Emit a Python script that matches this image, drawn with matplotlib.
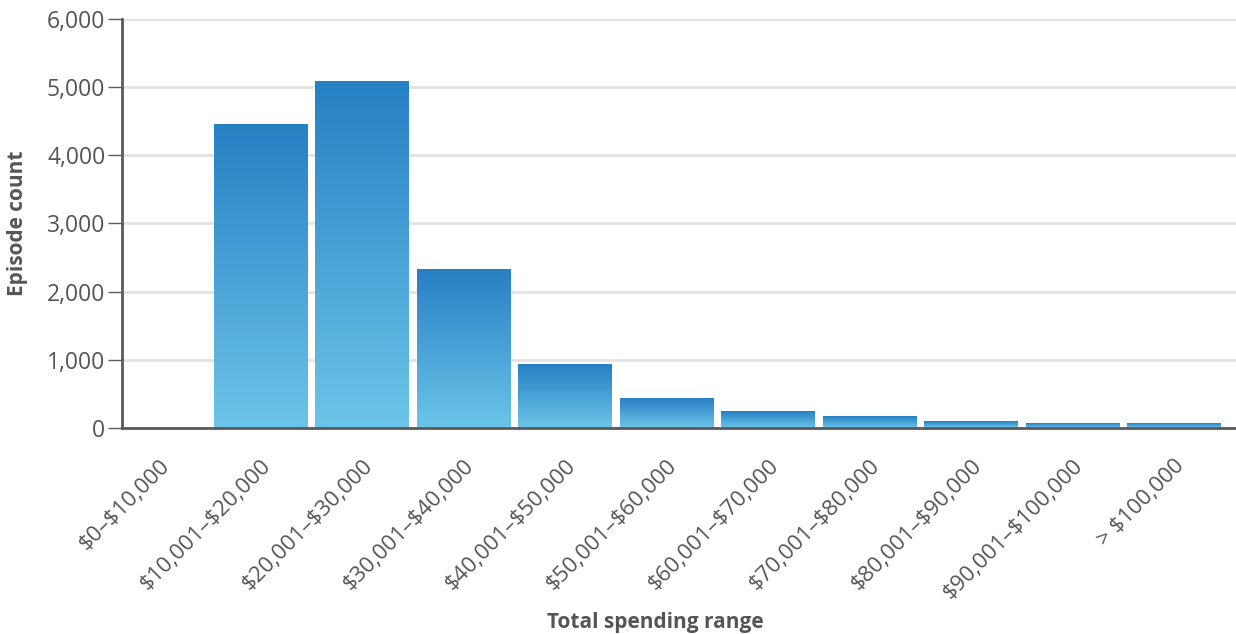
import numpy as np
import matplotlib
matplotlib.use('Agg')
import matplotlib.pyplot as plt
from matplotlib.colors import LinearSegmentedColormap
from matplotlib.ticker import FuncFormatter

categories = ['$0\u2013$10,000', '$10,001\u2013$20,000', '$20,001\u2013$30,000',
              '$30,001\u2013$40,000', '$40,001\u2013$50,000', '$50,001\u2013$60,000',
              '$60,001\u2013$70,000', '$70,001\u2013$80,000', '$80,001\u2013$90,000',
              '$90,001\u2013$100,000', '> $100,000']
counts = [0, 4450, 5090, 2330, 930, 430, 240, 175, 90, 65, 65]

plt.rcParams['font.family'] = ['Open Sans', 'DejaVu Sans']
plt.rcParams['text.parse_math'] = False
fig = plt.figure(figsize=(12.36, 6.34), dpi=100)
ax = fig.add_axes([0.0987, 0.325, 0.9013, 0.645])

cmap = LinearSegmentedColormap.from_list('bar', ['#6cc5e8', '#2680c4'])
grad = np.linspace(0, 1, 256).reshape(-1, 1)
width = 0.925
x = np.arange(len(categories))
for xi, h in zip(x, counts):
    if h <= 0:
        continue
    ax.imshow(grad, cmap=cmap, origin='lower', aspect='auto',
              extent=[xi - width / 2, xi + width / 2, 0, h], zorder=2)

ax.set_xlim(-0.365, 10.61)
ax.set_ylim(0, 6000)
ax.set_yticks(range(0, 6001, 1000))
ax.yaxis.set_major_formatter(FuncFormatter(lambda v, p: '{:,.0f}'.format(v)))
ax.grid(axis='y', color='#e3e3e3', linewidth=2, zorder=0)
ax.set_axisbelow(True)

for s in ['top', 'right']:
    ax.spines[s].set_visible(False)
for s in ['left', 'bottom']:
    ax.spines[s].set_color('#5a5a5a')
    ax.spines[s].set_linewidth(2)

ax.set_xticks(x)
ax.set_xticklabels(categories, rotation=45, ha='right', rotation_mode='anchor')
ax.tick_params(axis='x', length=0, pad=20, labelsize=16, labelcolor='#555555')
ax.tick_params(axis='y', length=10, width=1, color='#5a5a5a', pad=2,
               labelsize=16.5, labelcolor='#555555')

ax.set_ylabel('Episode count', fontsize=15, fontweight='bold', color='#555555', labelpad=14)
ax.set_xlabel('Total spending range', fontsize=15, fontweight='bold', color='#555555')
ax.xaxis.set_label_coords(0.479, -0.45)

fig.savefig('out.png', dpi=100)
